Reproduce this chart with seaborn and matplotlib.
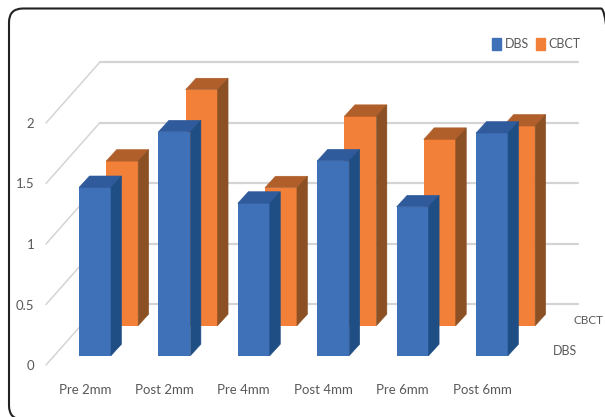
import matplotlib
matplotlib.use('Agg')
import matplotlib.pyplot as plt
from matplotlib.patches import FancyBboxPatch, Patch, Polygon
from matplotlib.transforms import IdentityTransform
import seaborn as sns

# Values
categories = ['Pre 2mm', 'Post 2mm', 'Pre 4mm', 'Post 4mm', 'Pre 6mm', 'Post 6mm']
dbs = [1.39, 1.85, 1.26, 1.61, 1.23, 1.84]
cbct = [1.36, 1.95, 1.14, 1.73, 1.54, 1.65]
y_ticks = [0, 0.5, 1, 1.5, 2]
y_labels = ['0', '0.5', '1', '1.5', '2']

W, H = 605, 417
TXT = '#595959'
GRID = '#d4d4d4'
FS = 9.5

sns.set_theme(style='white')
plt.rcParams['font.family'] = ['Lato', 'DejaVu Sans']

fig = plt.figure(figsize=(W / 100, H / 100), dpi=100)
# axes run from the front left corner of the floor to the end of the back wall
ax = fig.add_axes([46 / W, 1 - 365 / H, (578 - 46) / W, (365 - 63) / H])
ax.patch.set_alpha(0)

px_x, px_y = 79.4, 121.0  # pixels per category / per unit
depth_x, depth_y = 10.5 / px_x, 11.5 / px_y
wall_x, wall_y = 54 / px_x, 61 / px_y


def extrude(bars, top_col, side_col, z):
    for p in bars:
        x0, x1 = p.get_x(), p.get_x() + p.get_width()
        y0, y1 = p.get_y(), p.get_y() + p.get_height()
        ax.add_patch(Polygon([(x0, y1), (x1, y1), (x1 + depth_x, y1 + depth_y), (x0 + depth_x, y1 + depth_y)],
                             fc=top_col, ec=top_col, lw=0.4, zorder=z))
        ax.add_patch(Polygon([(x1, y0), (x1, y1), (x1 + depth_x, y1 + depth_y), (x1 + depth_x, y0 + depth_y)],
                             fc=side_col, ec=side_col, lw=0.4, zorder=z))


# orange row stands further back, blue row in front
sns.barplot(x=categories, y=cbct, color='#f28038', saturation=1, width=0.403,
            bottom=0.325, zorder=3, linewidth=0, ax=ax)
orange = list(ax.containers[0])
for p in orange:
    p.set_x(p.get_x() + 0.342)
extrude(orange, '#b05e2a', '#8b5023', 3)

sns.barplot(x=categories, y=dbs, color='#3f71b9', saturation=1, width=0.403,
            bottom=0.077, zorder=4, linewidth=0, ax=ax)
extrude(ax.containers[1], '#2f5a9c', '#1f4e85', 4)

ax.set_xlim(-49 / px_x, (578 - 95) / px_x)
ax.set_ylim(0, 302 / px_y)

# back wall lines and the diagonals running to the front
for t in y_ticks:
    ax.plot([wall_x + ax.get_xlim()[0], ax.get_xlim()[1]], [t + wall_y, t + wall_y],
            color=GRID, lw=1.6, zorder=1, clip_on=False)
    ax.plot([ax.get_xlim()[0], wall_x + ax.get_xlim()[0]], [t, t + wall_y],
            color=GRID, lw=1.1, zorder=1, clip_on=False)

sns.despine(ax=ax, left=True, bottom=True)
ax.set_yticks(y_ticks, y_labels)
# category labels sit a little left of their blue bars
ax.set_xticks([i - 10 / px_x for i in range(len(categories))], categories)
ax.tick_params(axis='y', length=0, pad=8.5, labelsize=FS, labelcolor=TXT)
ax.tick_params(axis='x', length=0, pad=13.5, labelsize=FS, labelcolor=TXT)

# depth axis labels
fig.text(574 / W, 1 - 321 / H, 'CBCT', fontsize=8.5, color=TXT, va='center')
fig.text(553 / W, 1 - 351 / H, 'DBS', fontsize=9, color=TXT, va='center')

ax.legend(handles=[Patch(color='#3f71b9', label='DBS'), Patch(color='#f28038', label='CBCT')],
          loc='upper right', bbox_to_anchor=(1.026, 1.12), ncol=2, frameon=False, fontsize=9,
          labelcolor=TXT, handlelength=0.7, handleheight=1.1, handletextpad=0.3, columnspacing=0.55)

# rounded frame around the whole chart, its right and bottom run past the image edge
fig.add_artist(FancyBboxPatch((9, H - 419.5), 606, 411, transform=IdentityTransform(),
                              boxstyle='round,pad=0,rounding_size=14',
                              fc='none', ec='#222222', lw=1.5))

fig.savefig('out.png', dpi=100)
